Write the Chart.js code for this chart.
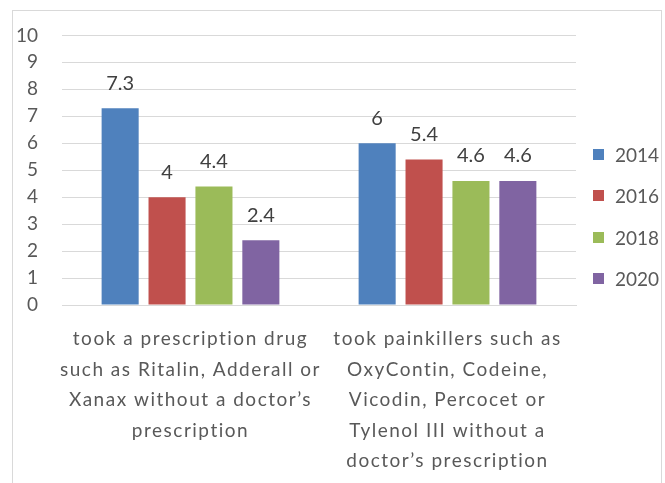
<!DOCTYPE html>
<html>
<head>
<meta charset="utf-8">
<script src="https://cdn.jsdelivr.net/npm/chart.js@4"></script>
<style>
    body { margin: 0; background: #fff; }
    #frame { position: absolute; left: 12px; top: 10px; width: 650px; height: 490px; border: 1px solid #d9d9d9; box-sizing: border-box; }
    #wrap { position: absolute; left: 0; top: 0; width: 665px; height: 483px; }
    #legend { position: absolute; left: 593px; top: 134px; font-family: Lato, sans-serif; font-size: 19px; color: #595959; }
    #legend div { height: 41.3px; display: flex; align-items: center; }
    #legend span.box { width: 11px; height: 11px; margin-right: 11px; display: inline-block; }
</style>
</head>
<body>
<div id="frame"></div>
<div id="wrap"><canvas id="chart" width="665" height="483"></canvas></div>
<div id="legend"></div>
<script>
var categories = [
    ['took a prescription drug', 'such as Ritalin, Adderall or', 'Xanax without a doctor\u2019s', 'prescription'],
    ['took painkillers such as', 'OxyContin, Codeine,', 'Vicodin, Percocet or', 'Tylenol III without a', 'doctor\u2019s prescription']
]
var years = ['2014', '2016', '2018', '2020']
var values2014 = [7.3, 6]
var values2016 = [4, 5.4]
var values2018 = [4.4, 4.6]
var values2020 = [2.4, 4.6]
var yTicks = [0, 1, 2, 3, 4, 5, 6, 7, 8, 9, 10]

var colors = {
    blue: '#4F81BD',
    red: '#C0504D',
    green: '#9BBB59',
    purple: '#8064A2'
}
var seriesColors = [colors.blue, colors.red, colors.green, colors.purple]
var seriesValues = [values2014, values2016, values2018, values2020]

// values above each bar, then wide letter spacing for the category labels drawn after
var barValues = {
    id: 'barValues',
    afterDatasetsDraw: function (chart) {
        var ctx = chart.ctx
        ctx.save()
        ctx.font = '20px Lato'
        ctx.fillStyle = '#404040'
        ctx.textAlign = 'center'
        ctx.textBaseline = 'middle'
        chart.data.datasets.forEach(function (ds, i) {
            chart.getDatasetMeta(i).data.forEach(function (bar, j) {
                ctx.fillText(String(ds.data[j]), bar.x, bar.y - 25)
            })
        })
        ctx.restore()
        ctx.letterSpacing = '1.5px'
    },
    afterDraw: function (chart) {
        chart.ctx.letterSpacing = '0px'
    }
}

var datasets = []
for (let i = 0; i < years.length; ++i) {
    datasets.push({
        label: years[i],
        backgroundColor: seriesColors[i],
        data: seriesValues[i],
        categoryPercentage: 0.73,
        barPercentage: 0.79
    })
}

var legend = document.getElementById('legend')
years.forEach(function (y, i) {
    var row = document.createElement('div')
    row.innerHTML = '<span class="box" style="background:' + seriesColors[i] + '"></span>' + y
    legend.appendChild(row)
})

var ctx = document.getElementById('chart').getContext('2d')
new Chart(ctx, {
    type: 'bar',
    data: {
        labels: categories,
        datasets: datasets
    },
    plugins: [barValues],
    options: {
        responsive: false,
        animation: false,
        layout: {
            padding: { left: 0, right: 89, top: 32, bottom: 0 }
        },
        plugins: {
            legend: { display: false },
            tooltip: { enabled: false }
        },
        scales: {
            x: {
                afterFit: function (s) { s.height = 178 },
                grid: { display: false, drawTicks: false },
                border: { color: '#d9d9d9' },
                ticks: {
                    z: 1,
                    color: '#595959',
                    padding: 19,
                    maxRotation: 0,
                    autoSkip: false,
                    font: { family: 'Lato', size: 19, lineHeight: 1.6 }
                }
            },
            y: {
                min: 0,
                max: 10,
                afterFit: function (s) { s.width = 62 },
                afterBuildTicks: function (s) { s.ticks = yTicks.map(v => ({ value: v })) },
                grid: { color: '#d9d9d9', drawTicks: false },
                border: { display: false },
                ticks: {
                    color: '#595959',
                    padding: 24,
                    font: { family: 'Lato', size: 19 }
                }
            }
        }
    }
});
</script>
</body>
</html>
